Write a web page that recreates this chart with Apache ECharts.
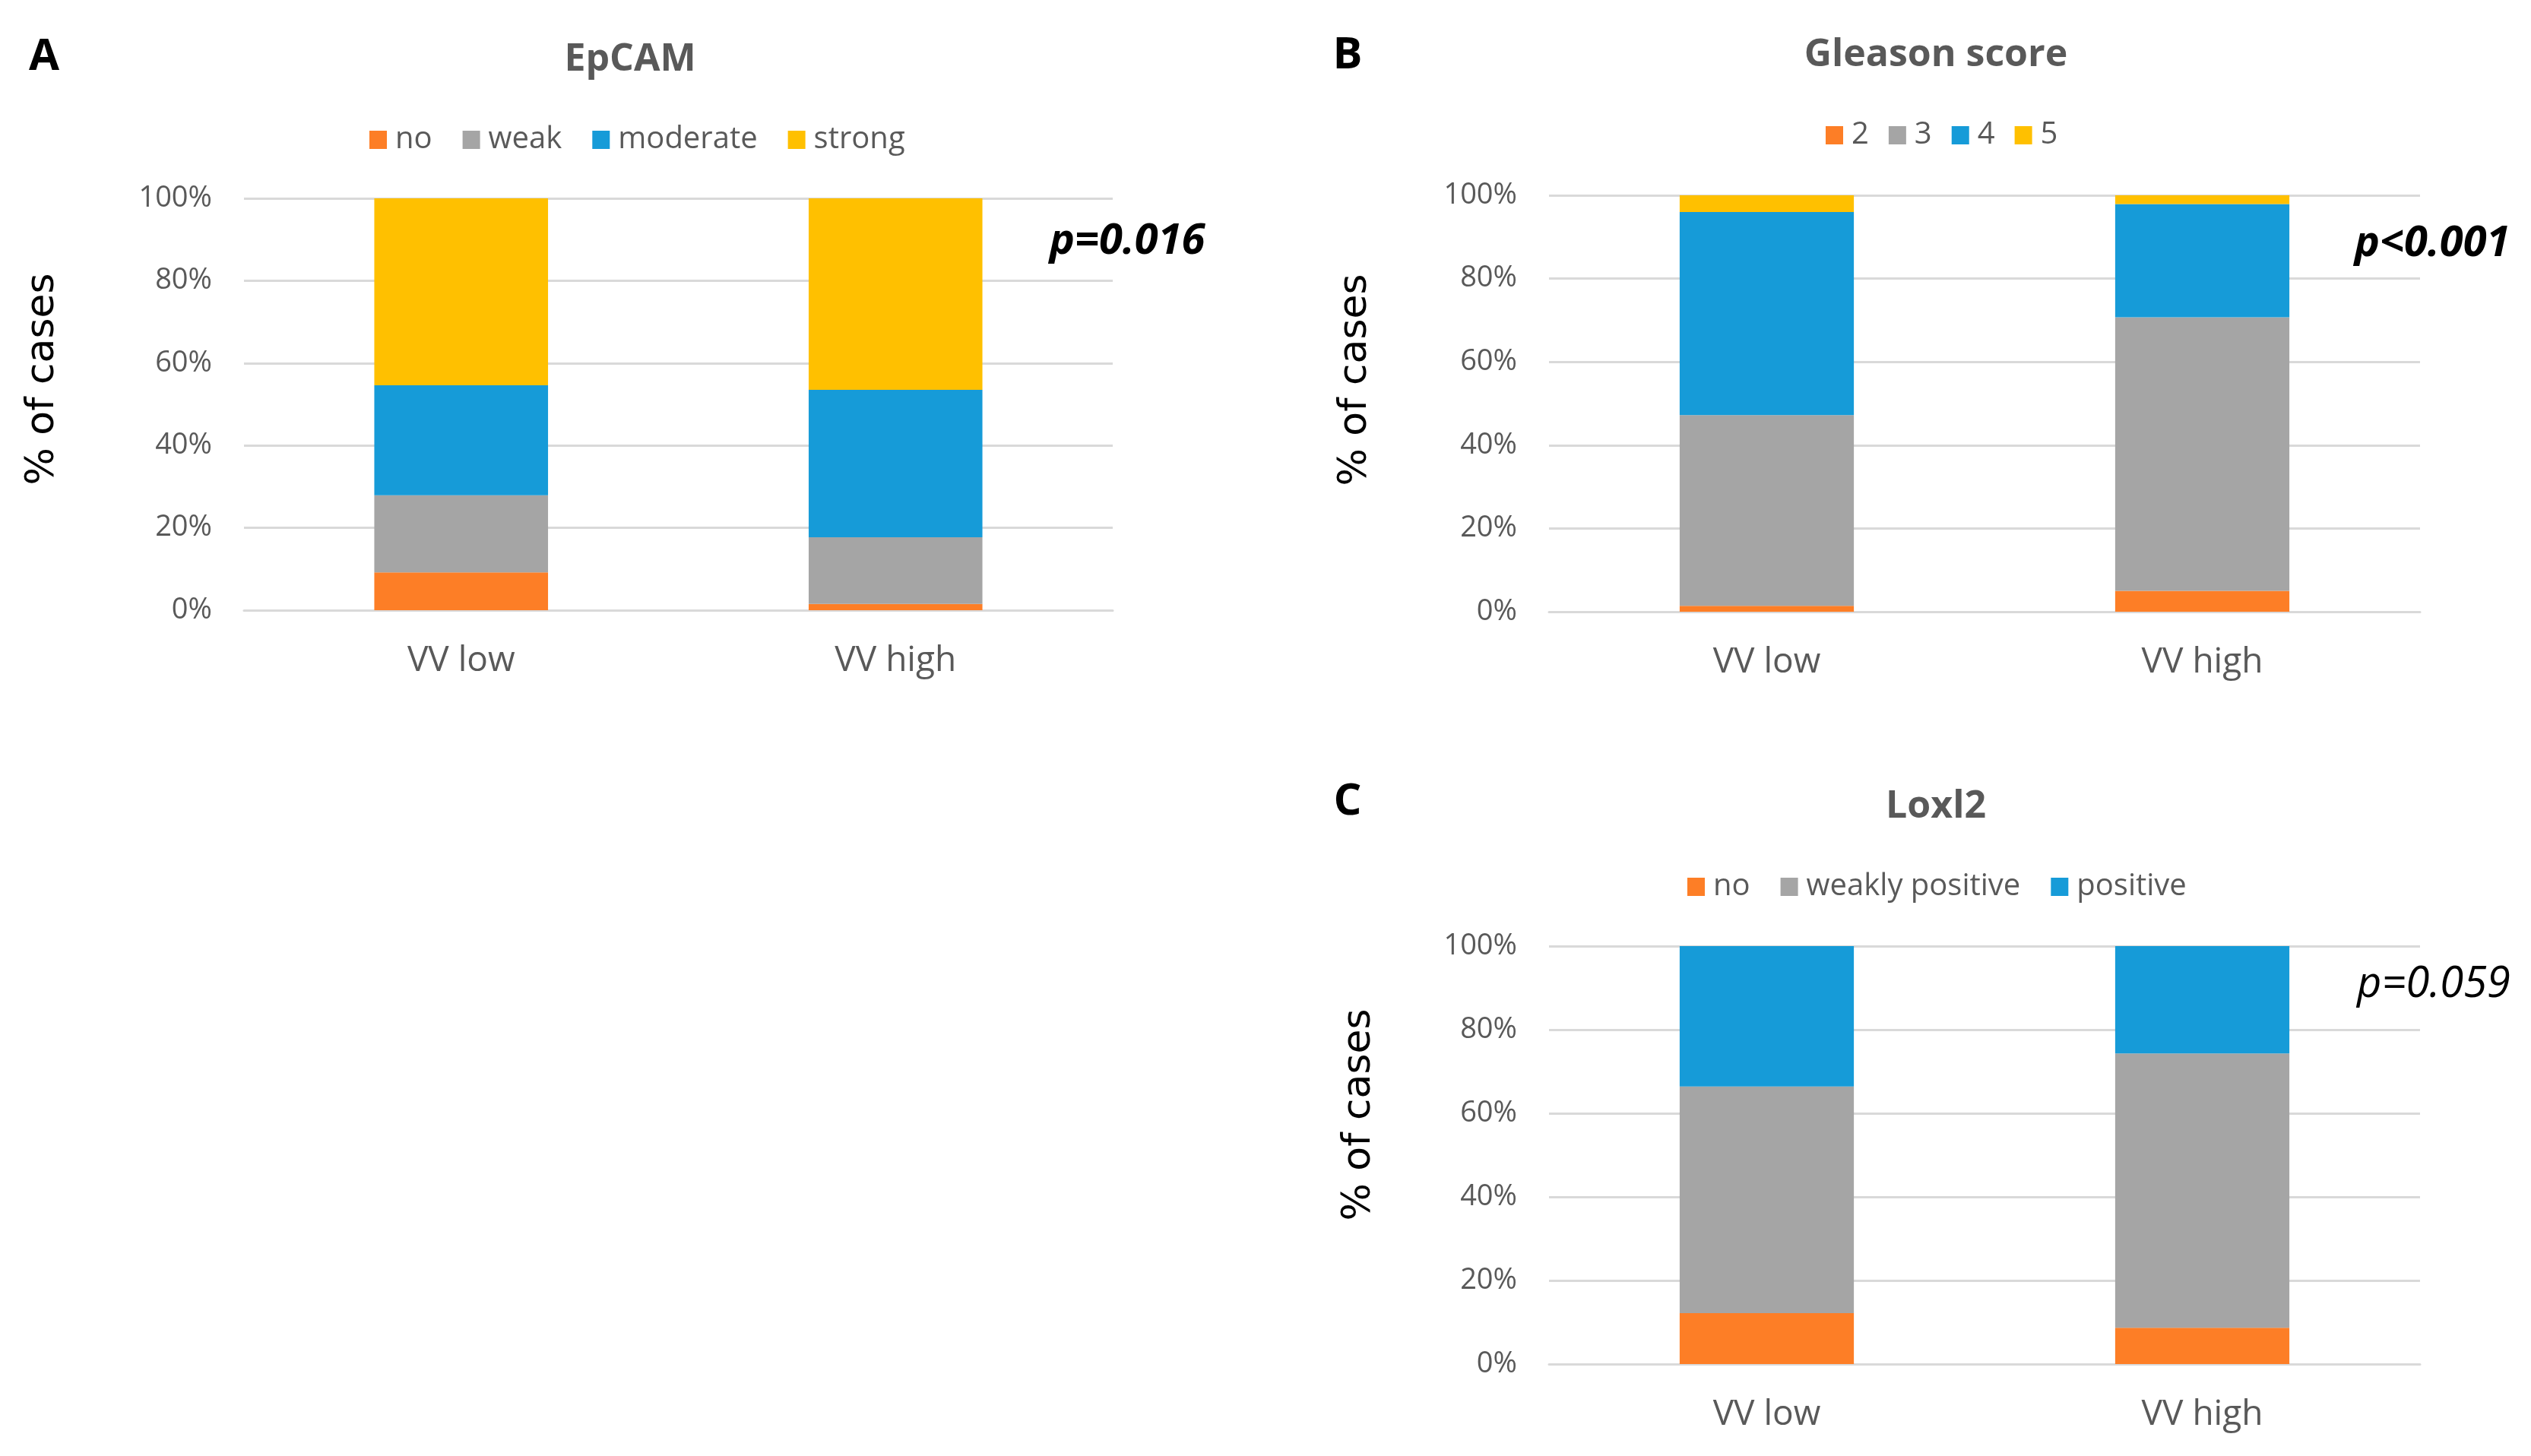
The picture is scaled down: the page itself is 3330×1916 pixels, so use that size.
<!DOCTYPE html>
<html>
<head>
<meta charset="utf-8">
<script src="https://cdn.jsdelivr.net/npm/echarts@6/dist/echarts.min.js"></script>
<style>
html,body{margin:0;padding:0;background:#fff;}
#chart{width:3330px;height:1916px;}
</style>
</head>
<body>
<div id="chart"></div>
<script>
// ---- data ----
const categories = ['VV low', 'VV high'];

const epcamNames = ['no', 'weak', 'moderate', 'strong'];
const epcamNo = [9.2, 1.5];
const epcamWeak = [18.7, 16.2];
const epcamModerate = [26.7, 35.8];
const epcamStrong = [45.4, 46.5];

const gleasonNames = ['2', '3', '4', '5'];
const gleason2 = [1.4, 5.0];
const gleason3 = [45.8, 65.7];
const gleason4 = [48.8, 27.2];
const gleason5 = [4.0, 2.1];

const loxl2Names = ['no', 'weakly positive', 'positive'];
const loxl2No = [12.2, 8.7];
const loxl2Weak = [54.2, 65.6];
const loxl2Pos = [33.6, 25.7];

const panelTitles = ['EpCAM', 'Gleason score', 'Loxl2'];
const panelLetters = ['A', 'B', 'C'];
const pValues = ['p=0.016', 'p<0.001', 'p=0.059'];
const yAxisTitle = '% of cases';

// ---- styling ----
const ORANGE = '#FD7E26', GRAY = '#A5A5A5', BLUE = '#169BD8', YELLOW = '#FFC000';
const TXT = '#595959';
const GRIDC = '#D9D9D9';
const FONT = '"Open Sans", "Noto Sans", sans-serif';

const chart = echarts.init(document.getElementById('chart'));

const grids = [
  {left: 321, width: 1143, top: 261, height: 542},
  {left: 2038, width: 1146, top: 257, height: 548},
  {left: 2038, width: 1146, top: 1245, height: 550}
];

function xAx(i) {
  return {
    type: 'category', gridIndex: i, data: categories,
    axisLine: {show: true, lineStyle: {color: GRIDC, width: 3}},
    axisTick: {show: false},
    axisLabel: {color: TXT, fontFamily: FONT, fontSize: 46, margin: 44}
  };
}
function yAx(i) {
  return {
    type: 'value', gridIndex: i, min: 0, max: 100, interval: 20,
    axisLine: {show: false}, axisTick: {show: false},
    splitLine: {lineStyle: {color: GRIDC, width: 3}},
    axisLabel: {color: TXT, fontFamily: FONT, fontSize: 38, margin: 42, formatter: '{value}%'}
  };
}
function bar(name, data, color, i) {
  return {
    type: 'bar', name: name, data: data, stack: 'p' + i,
    xAxisIndex: i, yAxisIndex: i, barWidth: '40%',
    itemStyle: {color: color}, emphasis: {disabled: true}
  };
}
function legend(names, left, top, gap) {
  return {
    data: names, left: left, top: top, padding: 0,
    itemWidth: 23, itemHeight: 24, itemGap: gap, icon: 'rect',
    selectedMode: false,
    textStyle: {color: TXT, fontFamily: FONT, fontSize: 40, padding: [0, 0, 0, 6]}
  };
}
function txt(x, y, s, opts) {
  return {
    type: 'text', x: x, y: y, rotation: opts.rotation || 0,
    style: Object.assign({text: s, textAlign: 'center', textVerticalAlign: 'middle', fontFamily: FONT}, opts.style)
  };
}

const series = [
  bar(epcamNames[0], epcamNo, ORANGE, 0),
  bar(epcamNames[1], epcamWeak, GRAY, 0),
  bar(epcamNames[2], epcamModerate, BLUE, 0),
  bar(epcamNames[3], epcamStrong, YELLOW, 0),
  bar(gleasonNames[0], gleason2, ORANGE, 1),
  bar(gleasonNames[1], gleason3, GRAY, 1),
  bar(gleasonNames[2], gleason4, BLUE, 1),
  bar(gleasonNames[3], gleason5, YELLOW, 1),
  bar(loxl2Names[0], loxl2No, ORANGE, 2),
  bar(loxl2Names[1], loxl2Weak, GRAY, 2),
  bar(loxl2Names[2], loxl2Pos, BLUE, 2)
];

const titleStyle = {fontSize: 50, fontWeight: 'bold', fill: TXT};
const letterStyle = {fontSize: 58, fontWeight: 'bold', fill: '#000'};
const yNameStyle = {fontSize: 52, fill: '#000', fontFamily: '"DejaVu Sans", sans-serif'};

const graphics = [
  txt(829, 79, panelTitles[0], {style: titleStyle}),
  txt(2547, 73, panelTitles[1], {style: titleStyle}),
  txt(2547, 1062, panelTitles[2], {style: titleStyle}),
  txt(58, 75, panelLetters[0], {style: letterStyle}),
  txt(1773, 73, panelLetters[1], {style: letterStyle}),
  txt(1773, 1055, panelLetters[2], {style: letterStyle}),
  txt(56, 499, yAxisTitle, {rotation: Math.PI / 2, style: yNameStyle}),
  txt(1783, 500, yAxisTitle, {rotation: Math.PI / 2, style: yNameStyle}),
  txt(1788, 1467, yAxisTitle, {rotation: Math.PI / 2, style: yNameStyle}),
  txt(1483, 318, pValues[0], {style: {fontSize: 56, fontWeight: 'bold', fontStyle: 'italic', fill: '#000'}}),
  txt(3200, 321, pValues[1], {style: {fontSize: 56, fontWeight: 'bold', fontStyle: 'italic', fill: '#000'}}),
  txt(3202, 1296, pValues[2], {style: {fontSize: 56, fontStyle: 'italic', fill: '#000'}})
];

chart.setOption({
  animation: false,
  backgroundColor: '#fff',
  grid: grids,
  xAxis: [xAx(0), xAx(1), xAx(2)],
  yAxis: [yAx(0), yAx(1), yAx(2)],
  legend: [
    legend(epcamNames, 486, 164, 40),
    legend(gleasonNames, 2402, 158, 26),
    legend(loxl2Names, 2220, 1147, 40)
  ],
  series: series,
  graphic: graphics
});
</script>
</body>
</html>
